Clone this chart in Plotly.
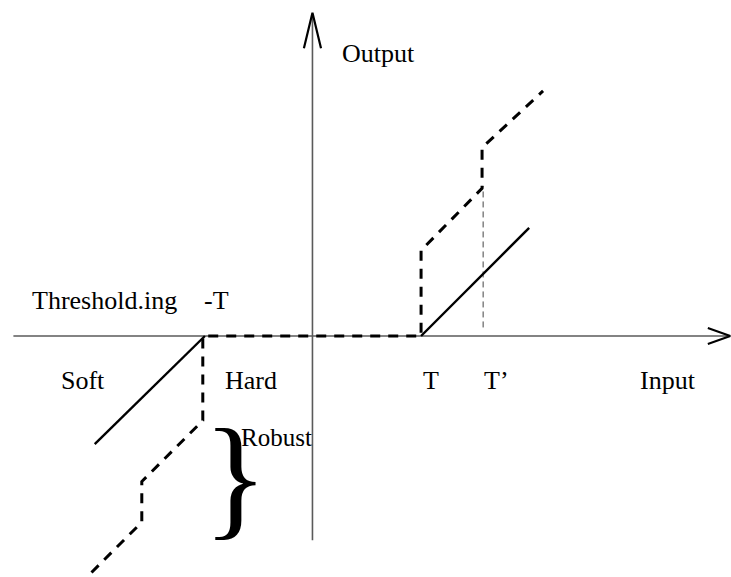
import plotly.graph_objects as go

# ---- data (units of the threshold T) ----
soft_x = [-2.04, -1.01, None, 1.01, 2.02]
soft_y = [-1.01, 0.0, None, 0.0, 1.01]

robust_x = [-2.07, -1.60, -1.60, -1.03, -1.03, 1.01, 1.01, 1.58, 1.58, 2.15]
robust_y = [-2.21, -1.74, -1.36, -0.79, 0.0, 0.0, 0.80, 1.38, 1.76, 2.29]

tprime_guide_x = [1.59, 1.59]
tprime_guide_y = [0.08, 1.40]

xaxis_x = [-2.80, 3.89]
xaxis_y = [0.0, 0.0]
yaxis_x = [-0.005, -0.005]
yaxis_y = [-1.91, 3.00]

xarrow_x = [3.69, 3.90, 3.69]
xarrow_y = [0.075, 0.0, -0.075]
yarrow_x = [-0.085, -0.005, 0.075]
yarrow_y = [2.69, 3.02, 2.69]

label_texts = ["Output", "Threshold.ing", "-T", "Soft", "Hard", "T", "T\u2019", "Input", "Robust"]
label_x = [0.252, -2.645, -1.035, -2.37, -0.84, 1.01, 1.58, 3.033, -0.69]
label_y = [2.64, 0.336, 0.336, -0.42, -0.42, -0.42, -0.42, -0.42, -0.95]
label_size = [26, 26, 26, 26, 26, 26, 26, 26, 25]

brace_x = [-1.05]
brace_y = [-1.31]

FONT = "Liberation Serif, Times New Roman, serif"

fig = go.Figure()

# axes
fig.add_trace(go.Scatter(x=xaxis_x, y=xaxis_y, mode="lines",
                         line=dict(color="#5a5a5a", width=1.6), hoverinfo="skip"))
fig.add_trace(go.Scatter(x=yaxis_x, y=yaxis_y, mode="lines",
                         line=dict(color="#5a5a5a", width=1.6), hoverinfo="skip"))
fig.add_trace(go.Scatter(x=xarrow_x, y=xarrow_y, mode="lines",
                         line=dict(color="black", width=2), hoverinfo="skip"))
fig.add_trace(go.Scatter(x=yarrow_x, y=yarrow_y, mode="lines",
                         line=dict(color="black", width=2.2), hoverinfo="skip"))

# T' guide
fig.add_trace(go.Scatter(x=tprime_guide_x, y=tprime_guide_y, mode="lines",
                         line=dict(color="#444", width=1, dash="6px,4px"), hoverinfo="skip"))

# soft thresholding (solid)
fig.add_trace(go.Scatter(x=soft_x, y=soft_y, mode="lines",
                         line=dict(color="black", width=2.4), hoverinfo="skip"))

# robust / hard (dashed)
fig.add_trace(go.Scatter(x=robust_x, y=robust_y, mode="lines",
                         line=dict(color="black", width=3, dash="10px,8px"), hoverinfo="skip"))

for t, x, y, s in zip(label_texts, label_x, label_y, label_size):
    fig.add_annotation(x=x, y=y, text=t, showarrow=False, xanchor="left", yanchor="middle",
                       font=dict(family=FONT, size=s, color="black"))

fig.add_annotation(x=brace_x[0], y=brace_y[0], text="}", showarrow=False,
                   xanchor="left", yanchor="middle",
                   font=dict(family=FONT, size=135, color="black"))

fig.update_layout(
    width=731, height=577,
    margin=dict(l=0, r=0, t=0, b=0),
    paper_bgcolor="white", plot_bgcolor="white",
    showlegend=False,
    xaxis=dict(range=[-313 / 107, 418 / 107], visible=False, fixedrange=True),
    yaxis=dict(range=[-241 / 107, 336 / 107], visible=False, fixedrange=True),
)

fig.write_html("out.html", config={"displayModeBar": False},
               post_script="document.body.style.margin='0';")
